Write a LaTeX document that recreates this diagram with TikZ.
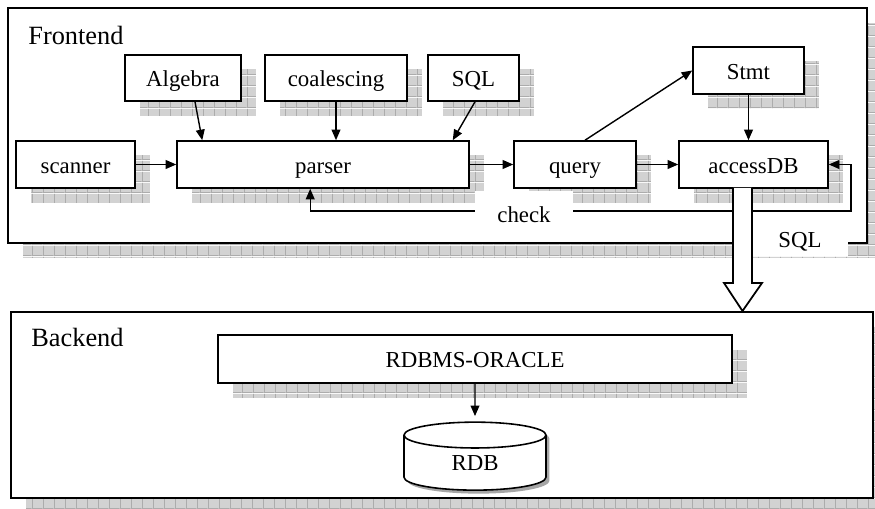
\documentclass[tikz,border=0pt]{standalone}
\usepackage{fontspec}
\setmainfont{Liberation Serif}
\usetikzlibrary{arrows.meta,positioning,shapes.geometric,shadows,patterns.meta,calc}

\tikzdeclarepattern{
  name=gridshade,
  type=colored,
  bottom left={(0pt,0pt)},
  top right={(6pt,6pt)},
  tile size={(6pt,6pt)},
  code={
    \fill[gray!35] (0pt,0pt) rectangle (6pt,6pt);
    \draw[gray!65, line width=0.5pt] (0pt,0.25pt) -- (6pt,0.25pt) (0.25pt,0pt) -- (0.25pt,6pt);
  }
}

\tikzset{
  gridshadow/.style={general shadow={shadow xshift=0.3cm, shadow yshift=-0.3cm, pattern=gridshade}},
  box/.style={draw, line width=0.9pt, fill=white, gridshadow, inner sep=0pt,
    text height=11pt, text depth=0.8pt, font=\fontsize{13}{15}\selectfont},
  frame/.style={draw, line width=1.2pt, fill=white, gridshadow, inner sep=0pt},
  title/.style={anchor=base west, inner sep=0pt, font=\fontsize{15}{18}\selectfont},
  link/.style={line width=0.8pt, -{Triangle[length=6pt,width=5pt]}},
}

\begin{document}
\begin{tikzpicture}[x=0.02cm, y=-0.02cm]
\useasboundingbox (0,0) rectangle (875,509);

% frontend
\node[frame, minimum width=17.18cm, minimum height=4.7cm] (front) at (437.5,125.5) {};
\node[title] (fronttitle) at (28,45) {Frontend};

\node[box, minimum width=2.32cm, minimum height=0.92cm] (algebra) at (183,78) {Algebra};
\node[box, minimum width=2.84cm, minimum height=0.92cm] (coalescing) at (336,78) {coalescing};
\node[box, minimum width=1.82cm, minimum height=0.92cm] (sqlsrc) at (473.5,78) {SQL};
\node[box, minimum width=2.22cm, minimum height=0.94cm] (stmt) at (748.5,70.5) {Stmt};

\node[box, minimum width=2.38cm, minimum height=0.94cm] (scanner) at (75.5,164.5) {scanner};
\node[box, minimum width=5.84cm, minimum height=0.94cm] (parser) at (323,164.5) {parser};
\node[box, minimum width=2.44cm, minimum height=0.94cm] (query) at (575,164.5) {query};
\node[box, minimum width=2.98cm, minimum height=0.94cm] (accessdb) at (753.5,164.5) {accessDB};

\draw[link] (scanner) -- (parser);
\draw[link] ([xshift=0.24cm]algebra.south) -- ([xshift=0.52cm]parser.north west);
\draw[link] (coalescing.south) -- (coalescing.south |- parser.north);
\draw[link] ([xshift=0.03cm]sqlsrc.south) -- ([xshift=-0.34cm]parser.north east);
\draw[link] (parser) -- (query);
\draw[link] ([xshift=0.2cm]query.north) -- (stmt.west);
\draw[link] (query) -- (accessdb);
\draw[link] (stmt.south) -- (stmt.south |- accessdb.north);

\coordinate (turn) at (851,211);
\draw[link, {Triangle[length=6pt,width=5pt]}-{Triangle[length=6pt,width=5pt]}]
  ([xshift=2.68cm]parser.south west) |- (turn) |- (accessdb.east);
\node[fill=white, inner sep=0pt, minimum width=1.96cm, minimum height=0.92cm,
  text height=11pt, text depth=0.8pt, font=\fontsize{13}{15}\selectfont] (check) at (524,214) {check};

% backend
\node[frame, minimum width=17.24cm, minimum height=3.72cm] (back) at (442,405) {};
\node[title] (backtitle) at (31,347) {Backend};

\node[box, minimum width=10.28cm, minimum height=0.96cm] (rdbms) at (475,359) {RDBMS-ORACLE};
\node[cylinder, shape border rotate=90, draw, line width=0.9pt, fill=white, aspect=0.55,
  minimum width=2.84cm, minimum height=1.36cm, inner sep=0pt,
  general shadow={shadow xshift=0.07cm, shadow yshift=-0.07cm, fill=gray!70},
  font=\fontsize{13}{15}\selectfont] (rdb) at (475,463) {RDB};
\draw[link, shorten >=3pt] (rdbms) -- (rdb);

% SQL flow between the two parts
\node[fill=white, inner sep=0pt, minimum width=1.9cm, minimum height=0.68cm,
  text height=11pt, text depth=0.8pt, font=\fontsize{13}{15}\selectfont] (sqlflow) at (800,239) {SQL};
\coordinate (flowtop) at (742.5,188);
\draw[line width=1pt, fill=white, line join=miter]
  ($(flowtop)+(-9.5,0)$) -- ++(0,95) -- ++(-9,0) -- (742.5,311)
  -- ($(flowtop)+(19.5,95)$) -- ++(-10,0) -- ($(flowtop)+(9.5,0)$);
\end{tikzpicture}
\end{document}
